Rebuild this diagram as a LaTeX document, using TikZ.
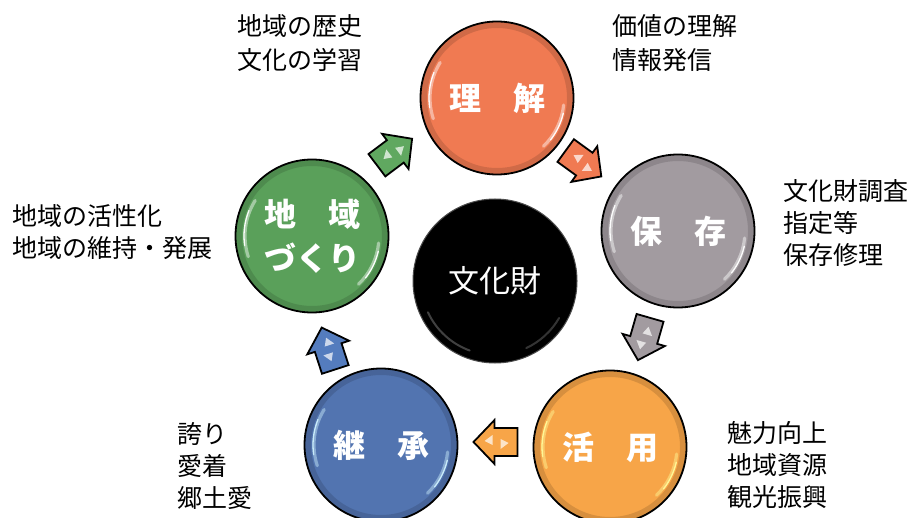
\documentclass[tikz,border=0pt]{standalone}
\usepackage{fontspec}
\newfontfamily\cjk{Noto Sans CJK JP}
\usetikzlibrary{calc}
\definecolor{cRed}{RGB}{240,122,82}
\definecolor{cGray}{RGB}{162,155,160}
\definecolor{cOrange}{RGB}{247,165,72}
\definecolor{cBlue}{RGB}{82,116,176}
\definecolor{cGreen}{RGB}{90,160,90}
\definecolor{aBlue}{RGB}{84,124,190}
\definecolor{aGreen}{RGB}{96,168,96}
\tikzset{
  ball/.style={circle, draw=black, line width=1.8pt, minimum size=153pt, inner sep=0pt,
    text=white, align=center, font=\cjk\bfseries\fontsize{32}{44}\selectfont},
  core/.style={circle, fill=black, draw=black!70, line width=1pt, minimum size=164pt, inner sep=0pt,
    text=white, font=\cjk\fontsize{31}{36}\selectfont},
  side/.style={anchor=west, align=left, inner sep=0pt, font=\cjk\fontsize{25}{34}\selectfont},
  side3/.style={side, font=\cjk\fontsize{25}{32}\selectfont},
  rim/.style={black, opacity=.13, line width=6pt},
  glow/.style={line cap=round, line width=3.2pt, opacity=.45},
  glint/.style={line cap=round, line width=1.3pt, opacity=.95},
  blockarrow/.pic={
    \draw[line width=1.8pt, line join=miter, fill=#1]
      (22,0) -- (1,22) -- (1,14) -- (-22,14) -- (-22,-14) -- (1,-14) -- (1,-22) -- cycle;
    \fill[white, opacity=.7] (3,-7) -- (11,-1) -- (3,3) -- cycle;
    \fill[white, opacity=.7] (-5,7) -- (-13,1) -- (-5,-3) -- cycle;
  }
}
\newcommand\mygloss[2]{%
  \draw[rim] (#1.center) circle (73);
  \draw[#2, glow] ([shift={(148:67)}]#1.center) arc (148:198:67);
  \draw[#2, glint] ([shift={(158:68)}]#1.center) arc (158:188:68);
  \draw[#2, glow] ([shift={(-6:67)}]#1.center) arc (-6:-46:67);
  \draw[#2, glint] ([shift={(-13:68)}]#1.center) arc (-13:-38:68);
}
\begin{document}
\begin{tikzpicture}[x=1pt, y=1pt]
\useasboundingbox (0,0) rectangle (917,517);
\fill[white] (0,0) rectangle (917,517);
\clip (0,0) rectangle (917,517);

% circles
\node[ball, fill=cRed]    (rk) at (497,419) {理　解};
\node[ball, fill=cGray]   (hz) at (678,286) {保　存};
\node[ball, fill=cOrange] (kt) at (610,70)  {活　用};
\node[ball, fill=cBlue]   (ks) at (381,72)  {継　承};
\node[ball, fill=cGreen]  (dz) at (312,281) {地　域\\づくり};
\node[core] (bk) at (495,236) {文化財};

\mygloss{rk}{white}
\mygloss{hz}{white}
\mygloss{kt}{yellow!40!white}
\mygloss{ks}{cyan!20!white}
\mygloss{dz}{white}
\draw[white, opacity=.25, line width=2pt, line cap=round] ([shift={(205:74)}]bk.center) arc (205:250:74);
\draw[white, opacity=.2, line width=2pt, line cap=round] ([shift={(295:74)}]bk.center) arc (295:330:74);

% arrow positions
\coordinate (a1) at ($(dz)!0.5!(rk)+(-10,15)$);
\coordinate (a2) at ($(rk)!0.5!(hz)+(-4,1)$);
\coordinate (a3) at ($(hz)!0.5!(kt)$);
\coordinate (a4) at ($(kt)!0.5!(ks)+(0,4)$);
\coordinate (a5) at ($(ks)!0.5!(dz)+(-18,-8)$);

\pic[rotate=37]   at (a1) {blockarrow=aGreen};
\pic[rotate=-36]  at (a2) {blockarrow=cRed};
\pic[rotate=-106] at (a3) {blockarrow=cGray};
\pic[rotate=180]  at (a4) {blockarrow=cOrange};
\pic[rotate=108]  at (a5) {blockarrow=aBlue};

% side texts
\node[side]  (t1) at (237,474) {地域の歴史\\文化の学習};
\node[side]  (t2) at (612,474) {価値の理解\\情報発信};
\node[side3] (t3) at (783,294) {文化財調査\\指定等\\保存修理};
\node[side3] (t4) at (12,285)  {地域の活性化\\地域の維持・発展};
\node[side3] (t5) at (177,51)  {誇り\\愛着\\郷土愛};
\node[side3] (t6) at (727,52)  {魅力向上\\地域資源\\観光振興};
\end{tikzpicture}
\end{document}
